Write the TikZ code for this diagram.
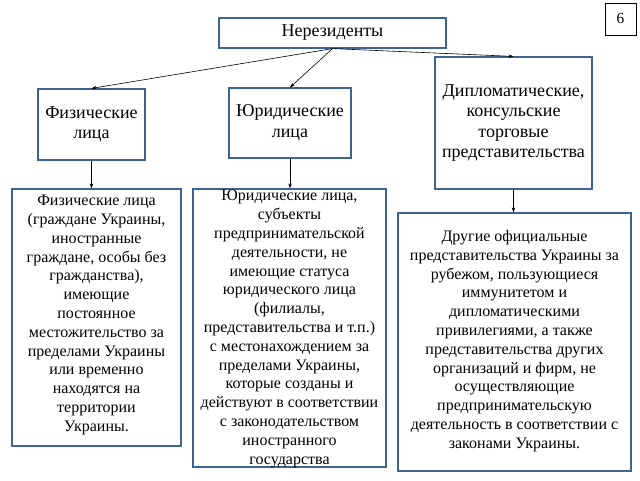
\documentclass[tikz,border=0pt]{standalone}
\usepackage{fontspec}
\setmainfont{Liberation Serif}
\usetikzlibrary{arrows.meta}
\definecolor{boxblue}{RGB}{62,100,150}

\begin{document}
\begin{tikzpicture}[x=1pt,y=-1pt,
    box/.style={draw=boxblue, line width=1.2pt, inner sep=0pt},
    toptext/.style={align=center, font=\fontsize{18}{20.5}\selectfont},
    lowtext/.style={align=center, font=\fontsize{16}{18.8}\selectfont},
    link/.style={-{Stealth[length=5pt,width=3.5pt]}, line width=0.6pt}]
  \useasboundingbox (0,0) rectangle (640,480);
  % Page number
  \node[draw, line width=1pt, minimum width=31pt, minimum height=32pt,
    font=\fontsize{15.3}{18}\selectfont] (page) at (620.5,19) {6};
  % Root
  \node[box, toptext, minimum width=227pt, minimum height=30pt] (root) at (332.5,33) {Нерезиденты};
  % Second row
  \node[box, toptext, minimum width=107pt, minimum height=71pt] (fiz) at (91.5,124.5) {Физические\\лица};
  \node[box, toptext, minimum width=122pt, minimum height=70pt] (jur) at (290,123) {Юридические\\лица};
  \node[box, toptext, minimum width=157pt, minimum height=132pt] (dip) at (513.5,123)
    {Дипломатические,\\консульские\\торговые\\представительства};
  % Third row: frames
  \node[box, minimum width=169pt, minimum height=257pt] (fizbox) at (96.5,317.5) {};
  \node[box, minimum width=193pt, minimum height=278pt] (jurbox) at (289.5,328) {};
  \node[box, minimum width=233pt, minimum height=258pt] (dipbox) at (514.5,342) {};
  % Third row: texts
  \node[lowtext] (fiztext) at (96.5,315) {Физические лица\\(граждане Украины,\\иностранные\\граждане, особы без\\гражданства),\\имеющие\\постоянное\\местожительство за\\пределами Украины\\или временно\\находятся на\\территории\\Украины.};
  \node[lowtext] (jurtext) at (289.5,329) {Юридические лица,\\субъекты\\предпринимательской\\деятельности, не\\имеющие статуса\\юридического лица\\(филиалы,\\представительства и т.п.)\\с местонахождением за\\пределами Украины,\\которые созданы и\\действуют в соответствии\\с законодательством\\иностранного\\государства};
  \node[lowtext] (diptext) at (514.5,341) {Другие официальные\\представительства Украины за\\рубежом, пользующиеся\\иммунитетом и\\дипломатическими\\привилегиями, а также\\представительства других\\организаций и фирм, не\\осуществляющие\\предпринимательскую\\деятельность в соответствии с\\законами Украины.};
  % Connectors
  \draw[link] (root.south) -- (fiz.north);
  \draw[link] (root.south) -- (jur.north);
  \draw[link] (root.south) -- (dip.north);
  \draw[link] (fiz.south) -- (fiz.south |- fizbox.north);
  \draw[link] (jur.south) -- (jur.south |- jurbox.north);
  \draw[link] (dip.south) -- (dip.south |- dipbox.north);
\end{tikzpicture}
\end{document}
